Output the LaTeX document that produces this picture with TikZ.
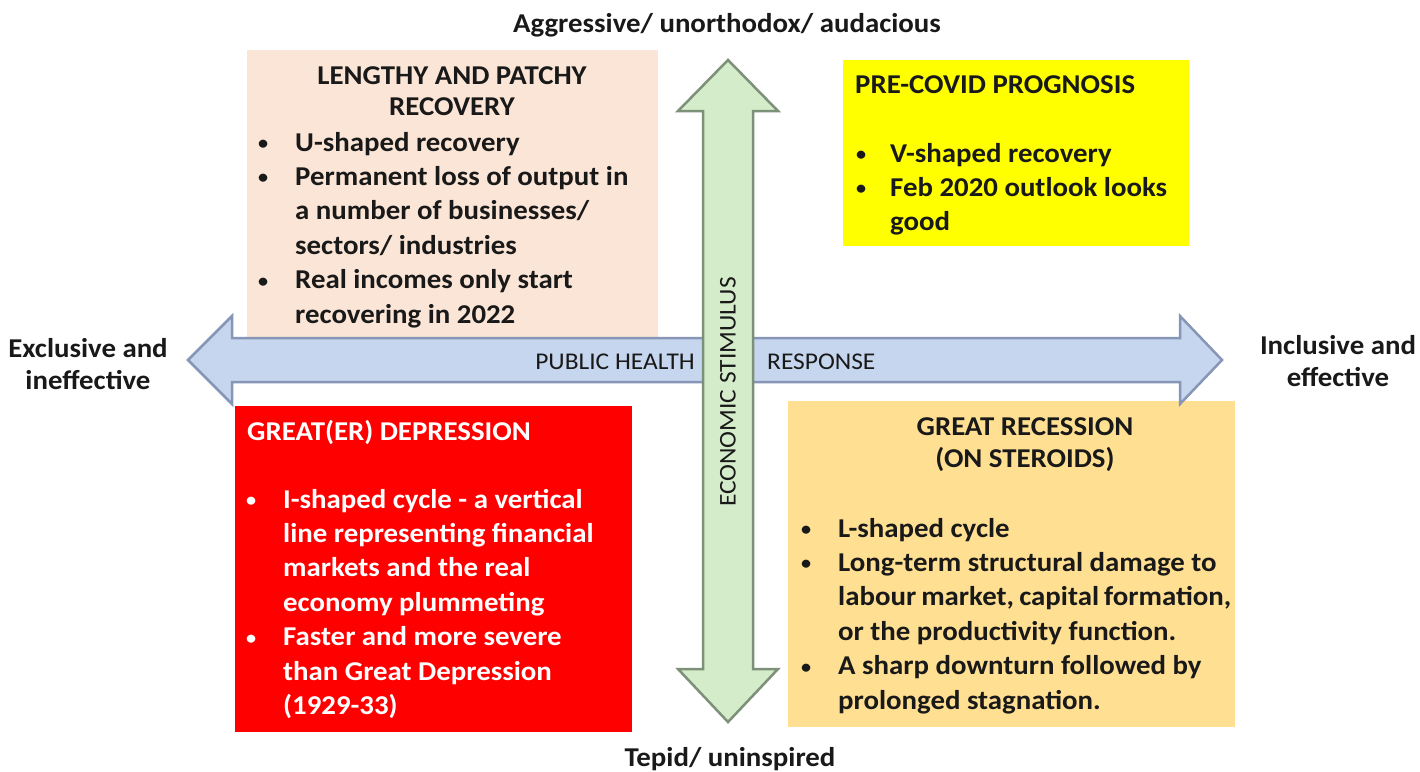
\documentclass[tikz,border=0pt]{standalone}
\usepackage{fontspec}
\setmainfont{Carlito}[FakeStretch=1.06]
\definecolor{peach}{RGB}{251,229,214}
\definecolor{yel}{RGB}{255,255,0}
\definecolor{redbox}{RGB}{255,0,0}
\definecolor{tan}{RGB}{255,223,145}
\definecolor{abfill}{RGB}{198,214,238}
\definecolor{abedge}{RGB}{135,150,182}
\definecolor{agfill}{RGB}{213,236,203}
\definecolor{agedge}{RGB}{125,145,120}
\definecolor{ink}{RGB}{25,25,25}
\newcommand{\bodyfont}{\fontsize{27.2}{34.4}\bfseries\selectfont}
\newcommand{\smallbul}{{\fontsize{19}{19}\selectfont\raisebox{1.5pt}{•}}}
\newcommand{\bul}{\makebox[37pt][l]{\smallbul}}
\newcommand{\ind}{\hspace*{37pt}}
\begin{document}
\begin{tikzpicture}[x=1pt,y=-1pt,
  box/.style={anchor=north west, inner sep=0, outer sep=0, draw=none},
  body/.style={anchor=base west, inner sep=0, text=ink, font=\bodyfont},
  lbl/.style={inner sep=0, text=ink, font=\fontsize{27.2}{32}\bfseries\selectfont, align=center},
  axlbl/.style={inner sep=0, text=ink, font=\fontsize{24}{28}\selectfont}]
\useasboundingbox[fill=white] (0,0) rectangle (1420,771);
% boxes
\node[box, fill=peach, minimum width=411pt, minimum height=290pt] (b1) at (247,50) {};
\node[box, fill=yel, minimum width=346pt, minimum height=186pt] (b2) at (843,60) {};
\node[box, fill=redbox, minimum width=397pt, minimum height=326pt] (b3) at (235,406) {};
\node[box, fill=tan, minimum width=447pt, minimum height=326pt] (b4) at (788,401) {};
% box 1 text
\node[body, anchor=base] (t1) at (452,84) {\parbox[t]{400pt}{\centering\fontsize{27.2}{31}\bfseries\selectfont LENGTHY AND PATCHY\\RECOVERY}};
\node[body] (c1) at (258,151) {\parbox[t]{400pt}{\bodyfont
\bul U-shaped recovery\\
\bul Permanent loss of output in\\
\ind a number of businesses/\\
\ind sectors/ industries\\
\bul Real incomes only start\\
\ind recovering in 2022}};
% box 2 text
\node[body] (t2) at (855,93) {PRE-COVID PROGNOSIS};
\node[body] (c2) at (856,162) {\parbox[t]{340pt}{\bodyfont
\makebox[34pt][l]{\smallbul}V-shaped recovery\\
\makebox[34pt][l]{\smallbul}Feb 2020 outlook looks\\
\hspace*{34pt}good}};
% box 3 text
\node[body, text=white] (t3) at (247,440) {GREAT(ER) DEPRESSION};
\node[body, text=white] (c3) at (246,508) {\parbox[t]{390pt}{\bodyfont
\bul I-shaped cycle - a vertical\\
\ind line representing financial\\
\ind markets and the real\\
\ind economy plummeting\\
\bul Faster and more severe\\
\ind than Great Depression\\
\ind (1929-33)}};
% box 4 text
\node[body, anchor=base] (t4) at (1025,435) {\parbox[t]{400pt}{\centering\fontsize{27.2}{32}\bfseries\selectfont GREAT RECESSION\\(ON STEROIDS)}};
\node[body] (c4) at (801,537) {\parbox[t]{430pt}{\bodyfont
\bul L-shaped cycle\\
\bul Long-term structural damage to\\
\ind labour market, capital formation,\\
\ind or the productivity function.\\
\bul A sharp downturn followed by\\
\ind prolonged stagnation.}};
% horizontal arrow
\draw[fill=abfill, draw=abedge, line width=2.5pt, line join=miter]
  (188,360) -- (232,316) -- (232,338) -- (1180,338) -- (1180,316) -- (1222,360)
  -- (1180,404) -- (1180,382) -- (232,382) -- (232,404) -- cycle;
\node[axlbl, anchor=base east] (ph) at (695,369) {PUBLIC HEALTH};
\node[axlbl, anchor=base west] (rs) at (767,369) {RESPONSE};
% vertical arrow
\draw[fill=agfill, draw=agedge, line width=2.5pt, line join=miter]
  (728,60) -- (778,111) -- (753,111) -- (753,669) -- (778,669) -- (728,722)
  -- (678,669) -- (703,669) -- (703,111) -- (678,111) -- cycle;
\node[axlbl, rotate=90] (es) at (728,392) {ECONOMIC STIMULUS};
% side labels
\node[lbl, anchor=base] (top) at (727,32) {Aggressive/ unorthodox/ audacious};
\node[lbl, anchor=base] (bot) at (730,766) {Tepid/ uninspired};
\node[lbl] (lft) at (88,364) {Exclusive and\\ineffective};
\node[lbl] (rgt) at (1338,361) {Inclusive and\\effective};
\end{tikzpicture}
\end{document}
